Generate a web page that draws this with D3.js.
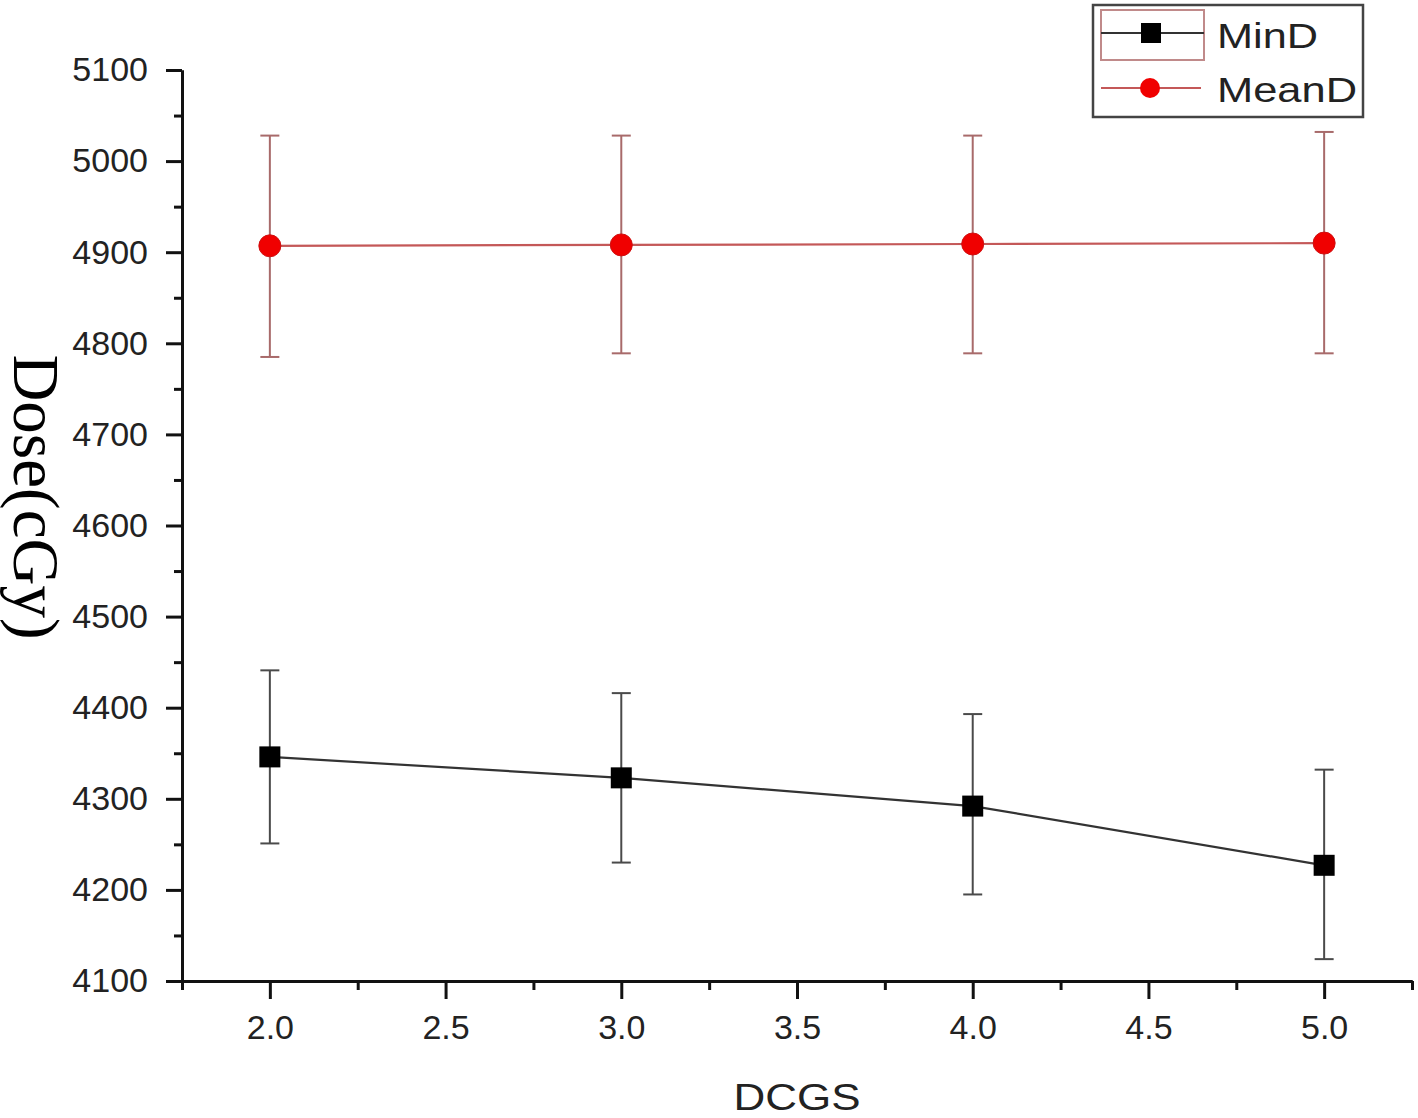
<!DOCTYPE html>
<html>
<head>
<meta charset="utf-8">
<script src="https://cdn.jsdelivr.net/npm/d3@7"></script>
<style>
  html, body { margin: 0; padding: 0; background: #fff; }
  svg { display: block; }
</style>
</head>
<body>
<svg id="chart" width="1418" height="1118"></svg>
<script>
// ---- data ----
const dcgs = [2.0, 3.0, 4.0, 5.0];
const minD = [4346, 4323, 4292, 4227];
const minDUpper = [4441, 4416, 4393, 4332];
const minDLower = [4251, 4230, 4195, 4124];
const meanD = [4907, 4908, 4909, 4910];
const meanDUpper = [5028, 5028, 5028, 5032];
const meanDLower = [4785, 4789, 4789, 4789];
const seriesNames = ["MinD", "MeanD"];
const yTickValues = [4100, 4200, 4300, 4400, 4500, 4600, 4700, 4800, 4900, 5000, 5100];
const yMinorTicks = [4150, 4250, 4350, 4450, 4550, 4650, 4750, 4850, 4950, 5050];
const xTickValues = [2.0, 2.5, 3.0, 3.5, 4.0, 4.5, 5.0];
const xMinorTicks = [1.75, 2.25, 2.75, 3.25, 3.75, 4.25, 4.75, 5.25];
const xLabel = "DCGS";
const yLabel = "Dose(cGy)";

// ---- layout ----
const svg = d3.select("#chart");
const plotL = 182, plotR = 1412, plotT = 70, plotB = 981;
const x = d3.scaleLinear().domain([1.75, 5.25]).range([plotL, plotR]);
const y = d3.scaleLinear().domain([4100, 5100]).range([plotB, plotT]);
const fontSans = "'Liberation Sans', Arial, sans-serif";

function styleAxis(g) {
  g.selectAll("path.domain").attr("stroke", "#111").attr("stroke-width", 3);
  g.selectAll(".tick line").attr("stroke", "#111").attr("stroke-width", 3);
  g.selectAll(".tick text").attr("fill", "#222").style("font-family", fontSans).style("font-size", "34px");
}

// minor ticks
svg.append("g").attr("transform", `translate(${plotL},0)`)
  .call(d3.axisLeft(y).tickValues(yMinorTicks).tickSize(8).tickSizeOuter(0).tickFormat(""))
  .call(styleAxis);
svg.append("g").attr("transform", `translate(0,${plotB})`)
  .call(d3.axisBottom(x).tickValues(xMinorTicks).tickSize(9).tickSizeOuter(0).tickFormat(""))
  .call(styleAxis);

// major ticks
svg.append("g").attr("transform", `translate(${plotL},0)`)
  .call(d3.axisLeft(y).tickValues(yTickValues).tickSize(16).tickSizeOuter(0).tickPadding(18).tickFormat(d3.format("d")))
  .call(styleAxis);
svg.append("g").attr("transform", `translate(0,${plotB})`)
  .call(d3.axisBottom(x).tickValues(xTickValues).tickSize(18).tickSizeOuter(0).tickPadding(16).tickFormat(d3.format(".1f")))
  .call(styleAxis);

// axis titles
svg.append("text")
  .attr("x", (plotL + plotR) / 2).attr("y", 1110)
  .attr("text-anchor", "middle")
  .attr("textLength", 127).attr("lengthAdjust", "spacingAndGlyphs")
  .style("font-family", fontSans).style("font-size", "36px").attr("fill", "#222")
  .text(xLabel);

svg.append("text")
  .attr("transform", "translate(14,497) rotate(90)")
  .attr("text-anchor", "middle")
  .style("font-family", "'Liberation Serif', 'Times New Roman', serif")
  .style("font-size", "65px").attr("fill", "#000")
  .text(yLabel);

// ---- series ----
const minData = dcgs.map((d, i) => ({x: d, v: minD[i], hi: minDUpper[i], lo: minDLower[i]}));
const meanData = dcgs.map((d, i) => ({x: d, v: meanD[i], hi: meanDUpper[i], lo: meanDLower[i]}));
const line = d3.line().x(d => x(d.x)).y(d => y(d.v));
const capW = 9.5;

function drawErr(data, color) {
  const g = svg.append("g").attr("stroke", color).attr("stroke-width", 2).attr("fill", "none");
  g.selectAll("line.v").data(data).join("line").attr("class", "v")
    .attr("x1", d => x(d.x)).attr("x2", d => x(d.x))
    .attr("y1", d => y(d.hi)).attr("y2", d => y(d.lo));
  g.selectAll("line.t").data(data).join("line").attr("class", "t")
    .attr("x1", d => x(d.x) - capW).attr("x2", d => x(d.x) + capW)
    .attr("y1", d => y(d.hi)).attr("y2", d => y(d.hi));
  g.selectAll("line.b").data(data).join("line").attr("class", "b")
    .attr("x1", d => x(d.x) - capW).attr("x2", d => x(d.x) + capW)
    .attr("y1", d => y(d.lo)).attr("y2", d => y(d.lo));
}

drawErr(meanData, "#a86a6a");
drawErr(minData, "#4a4a4a");

svg.append("path").datum(meanData).attr("d", line)
  .attr("fill", "none").attr("stroke", "#c45858").attr("stroke-width", 2.2);
svg.append("path").datum(minData).attr("d", line)
  .attr("fill", "none").attr("stroke", "#333").attr("stroke-width", 2.2);

svg.selectAll("circle.mean").data(meanData).join("circle").attr("class", "mean")
  .attr("cx", d => x(d.x)).attr("cy", d => y(d.v)).attr("r", 11)
  .attr("fill", "#f00000").attr("stroke", "#d01010").attr("stroke-width", 1);

const sq = 21;
svg.selectAll("rect.min").data(minData).join("rect").attr("class", "min")
  .attr("x", d => x(d.x) - sq / 2).attr("y", d => y(d.v) - sq / 2)
  .attr("width", sq).attr("height", sq)
  .attr("fill", "#000");

// ---- legend ----
const lg = svg.append("g");
lg.append("rect").attr("x", 1093).attr("y", 5).attr("width", 270).attr("height", 112)
  .attr("fill", "#fff").attr("stroke", "#444").attr("stroke-width", 2.5);
lg.append("rect").attr("x", 1101).attr("y", 10).attr("width", 103).attr("height", 50)
  .attr("fill", "none").attr("stroke", "#c08a8a").attr("stroke-width", 2);
// MinD entry
lg.append("line").attr("x1", 1101).attr("x2", 1204).attr("y1", 33).attr("y2", 33)
  .attr("stroke", "#333").attr("stroke-width", 2);
lg.append("rect").attr("x", 1151 - 10).attr("y", 33 - 10).attr("width", 20).attr("height", 20).attr("fill", "#000");
lg.append("text").attr("x", 1217).attr("y", 48)
  .attr("textLength", 101).attr("lengthAdjust", "spacingAndGlyphs")
  .style("font-family", fontSans).style("font-size", "35px").attr("fill", "#222")
  .text(seriesNames[0]);
// MeanD entry
lg.append("line").attr("x1", 1101).attr("x2", 1201).attr("y1", 88).attr("y2", 88)
  .attr("stroke", "#c45858").attr("stroke-width", 2);
lg.append("circle").attr("cx", 1150).attr("cy", 88).attr("r", 10).attr("fill", "#f00000");
lg.append("text").attr("x", 1217).attr("y", 102)
  .attr("textLength", 140).attr("lengthAdjust", "spacingAndGlyphs")
  .style("font-family", fontSans).style("font-size", "35px").attr("fill", "#222")
  .text(seriesNames[1]);
</script>
</body>
</html>
